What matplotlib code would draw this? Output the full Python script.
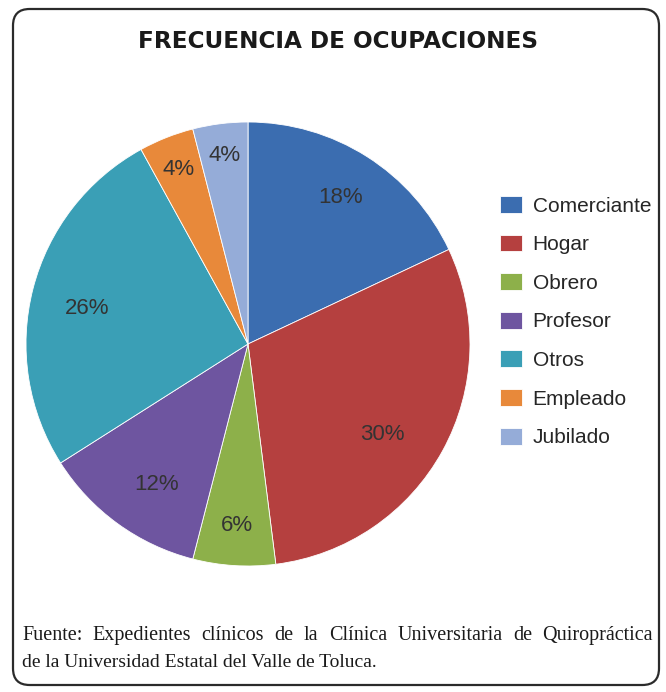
import numpy as np
import matplotlib.pyplot as plt
from matplotlib.patches import FancyBboxPatch

# datos
ocupaciones = ["Comerciante", "Hogar", "Obrero", "Profesor", "Otros", "Empleado", "Jubilado"]
porcentajes = [18, 30, 6, 12, 26, 4, 4]
colores = ["#3B6DB0", "#B5403F", "#8DB04A", "#6E55A0", "#3A9FB6", "#E8893A", "#95ACD8"]

titulo = "FRECUENCIA DE OCUPACIONES"
fuente = ["Fuente: Expedientes clínicos de la Clínica Universitaria de Quiropráctica",
          "de la Universidad Estatal del Valle de Toluca."]

W, H = 666, 692
fig = plt.figure(figsize=(W / 100, H / 100), dpi=100)
fig.patch.set_facecolor("white")

# marco redondeado
marco = FancyBboxPatch((13 / W, 1 - 685 / H), 646 / W, 676 / H,
                       boxstyle="round,pad=0,rounding_size=0.025",
                       transform=fig.transFigure, fill=False,
                       edgecolor="#2b2b2b", linewidth=1.6, mutation_aspect=W / H)
fig.patches.append(marco)

fig.text(338 / W, 1 - 42 / H, titulo, ha="center", va="center",
         fontsize=16.7, fontweight="bold", color="#1a1a1a", family="DejaVu Sans")

# pastel
ax = fig.add_axes([26 / W, 1 - 566 / H, 444 / W, 444 / H])
wedges, texts = ax.pie(porcentajes, colors=colores, startangle=90, counterclock=False,
                       wedgeprops=dict(edgecolor="white", linewidth=0.6))
ax.set_xlim(-1, 1)
ax.set_ylim(-1, 1)
ax.set_aspect("equal")

# distancia al centro y ajuste de angulo de cada etiqueta
dist = [0.78, 0.73, 0.82, 0.755, 0.74, 0.845, 0.857]
giro = [0, -5, 0, 3, 2, 0, 0]
for w, p, d, g in zip(wedges, porcentajes, dist, giro):
    ang = np.deg2rad((w.theta1 + w.theta2) / 2 + g)
    ax.text(d * np.cos(ang), d * np.sin(ang), f"{p}%", ha="center", va="center",
            fontsize=16, color="#333333", family="Liberation Sans")

leg = fig.legend(wedges, ocupaciones, loc="upper left",
                 bbox_to_anchor=(500 / W, 1 - 196 / H), frameon=False,
                 borderaxespad=0, borderpad=0,
                 prop={"family": "Liberation Sans", "size": 15},
                 handlelength=1.07, handleheight=0.87, labelspacing=0.91,
                 handletextpad=0.5)
for t in leg.get_texts():
    t.set_color("#262626")

# pie de figura: primera linea justificada
fig.canvas.draw()
renderer = fig.canvas.get_renderer()
x0, x1, y_l1 = 22, 653, 1 - 640 / H
palabras = fuente[0].split(" ")
objs = [fig.text(0, y_l1, p, ha="left", va="baseline", fontsize=14.5,
                 family="Liberation Serif", color="#1a1a1a") for p in palabras]
anchos = [o.get_window_extent(renderer).width for o in objs]
hueco = (x1 - x0 - sum(anchos)) / (len(palabras) - 1)
x = x0
for o, a in zip(objs, anchos):
    o.set_x(x / W)
    x += a + hueco

fig.text(22 / W, 1 - 667 / H, fuente[1], ha="left", va="baseline",
         fontsize=14, family="Liberation Serif", color="#1a1a1a")

fig.savefig("out.png", dpi=100)
